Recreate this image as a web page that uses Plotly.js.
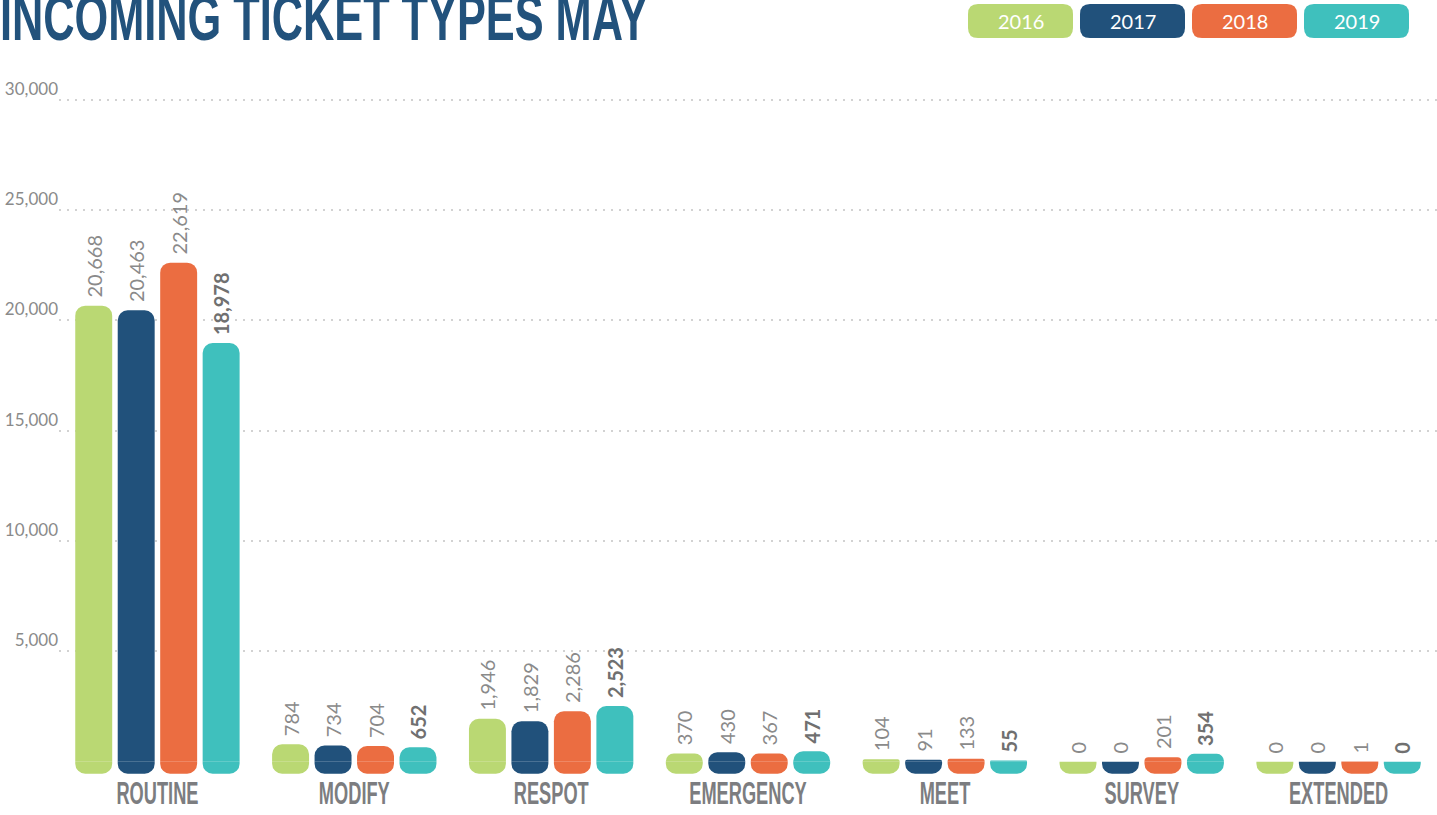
<!DOCTYPE html>
<html>
<head>
<meta charset="utf-8">
<script src="https://cdn.plot.ly/plotly-3.0.1.min.js"></script>
<style>
  html, body { margin: 0; padding: 0; background: #ffffff; }
  #chart { width: 1437px; height: 815px; }
</style>
</head>
<body>
<div id="chart"></div>
<script>
// ---- data ----
const titleText = 'INCOMING TICKET TYPES MAY';
const categories = ['ROUTINE', 'MODIFY', 'RESPOT', 'EMERGENCY', 'MEET', 'SURVEY', 'EXTENDED'];
const years = ['2016', '2017', '2018', '2019'];
const values2016 = [20668, 784, 1946, 370, 104, 0, 0];
const values2017 = [20463, 734, 1829, 430, 91, 0, 0];
const values2018 = [22619, 704, 2286, 367, 133, 201, 1];
const values2019 = [18978, 652, 2523, 471, 55, 354, 0];
const yTickVals = [5000, 10000, 15000, 20000, 25000, 30000];
const yTickText = ['5,000', '10,000', '15,000', '20,000', '25,000', '30,000'];

// ---- styling ----
const seriesValues = [values2016, values2017, values2018, values2019];
const colors = ['#BAD873', '#21517B', '#EB6D41', '#3FC0BD'];
const FOOT = 550;           // small rounded foot below the zero line
const M = { l: 59, r: 0, t: 91, b: 41 };
const W = 1437, H = 815;
const plotW = W - M.l - M.r, plotH = H - M.t - M.b;

const traces = [];
seriesValues.forEach((vals, i) => {
  const bold = i === years.length - 1;
  traces.push({
    type: 'bar', x: categories, y: vals, name: years[i],
    offsetgroup: years[i],
    marker: { color: colors[i], cornerradius: 10 },
    texttemplate: '\u00a0%{y:,}',
    textposition: 'outside', textangle: -90, constraintext: 'none',
    cliponaxis: false,
    textfont: { family: 'Lato, "Open Sans", sans-serif', size: 20,
                weight: bold ? 700 : 400, color: bold ? '#707070' : '#8a8a8a' },
    hoverinfo: 'skip', showlegend: false
  });
  traces.push({
    type: 'bar', x: categories, y: categories.map(() => -FOOT), name: years[i] + ' foot',
    offsetgroup: years[i],
    marker: { color: colors[i], cornerradius: 10 },
    cliponaxis: false, hoverinfo: 'skip', showlegend: false
  });
});

// legend pills (shapes + annotations)
function px2x(px) { return (px - M.l) / plotW; }
function py2y(py) { return (M.t + plotH - py) / plotH; }
function roundRect(x0, y0, x1, y1, r) {
  const P = (x, y) => px2x(x) + ',' + py2y(y);
  return 'M' + P(x0 + r, y0) + ' L' + P(x1 - r, y0) + ' Q' + P(x1, y0) + ' ' + P(x1, y0 + r) +
         ' L' + P(x1, y1 - r) + ' Q' + P(x1, y1) + ' ' + P(x1 - r, y1) +
         ' L' + P(x0 + r, y1) + ' Q' + P(x0, y1) + ' ' + P(x0, y1 - r) +
         ' L' + P(x0, y0 + r) + ' Q' + P(x0, y0) + ' ' + P(x0 + r, y0) + ' Z';
}
const shapes = [], annotations = [];
years.forEach((yr, i) => {
  const x0 = 968 + i * 112, x1 = x0 + 105, y0 = 4, y1 = 38;
  shapes.push({ type: 'path', xref: 'paper', yref: 'paper', path: roundRect(x0, y0, x1, y1, 10),
                fillcolor: colors[i], line: { width: 0 }, layer: 'above' });
  annotations.push({ xref: 'paper', yref: 'paper', x: px2x((x0 + x1) / 2), y: py2y((y0 + y1) / 2),
                     xanchor: 'center', yanchor: 'middle', showarrow: false, text: yr,
                     font: { family: 'Lato, "Open Sans", sans-serif', size: 20, weight: 400, color: '#ffffff' } });
});

const layout = {
  width: W, height: H,
  margin: M,
  paper_bgcolor: '#ffffff', plot_bgcolor: '#ffffff',
  barmode: 'group', bargap: 0.137, bargroupgap: 0.13,
  title: {
    text: titleText, xref: 'container', yref: 'container', x: 0, xanchor: 'left',
    y: 0.9784, yanchor: 'middle',
    font: { family: '"Liberation Sans Narrow", "Liberation Sans", sans-serif', size: 64, weight: 700, color: '#22527C' }
  },
  xaxis: {
    type: 'category', showgrid: false, showline: false, zeroline: false, ticks: '',
    tickfont: { family: '"Liberation Sans Narrow", "Liberation Sans", sans-serif', size: 32, weight: 700, color: '#7C7D80' },
    ticklabelstandoff: -3
  },
  yaxis: {
    range: [-560, 30400], tickvals: yTickVals, ticktext: yTickText,
    showgrid: true, gridcolor: '#d2d2d2', gridwidth: 2, griddash: '2px,6px',
    zeroline: false, showline: false, ticks: '',
    ticklabelshift: -11,
    tickfont: { family: 'Lato, "Open Sans", sans-serif', size: 17, weight: 400, color: '#8a8a8a' }
  },
  shapes: shapes, annotations: annotations,
  hovermode: false
};

// condense the display-font texts horizontally (no condensed display font is installed)
function squeeze(selector, s, originLeft, targetWidth) {
  document.querySelectorAll(selector).forEach(el => {
    let t0 = el.getAttribute('data-t0');
    if (t0 === null) { t0 = el.getAttribute('transform') || ''; el.setAttribute('data-t0', t0); }
    const b = el.getBBox();
    const k = targetWidth ? targetWidth / b.width : s;
    const cx = originLeft ? b.x : b.x + b.width / 2;
    el.setAttribute('transform', t0 + ' translate(' + cx + ',0) scale(' + k + ',1) translate(' + (-cx) + ',0)');
  });
}

Plotly.newPlot('chart', traces, layout, { displayModeBar: false, staticPlot: true }).then(() => {
  squeeze('.gtitle', 1, true, 648);
  squeeze('.xtick text', 0.57, false);
});
</script>
</body>
</html>
